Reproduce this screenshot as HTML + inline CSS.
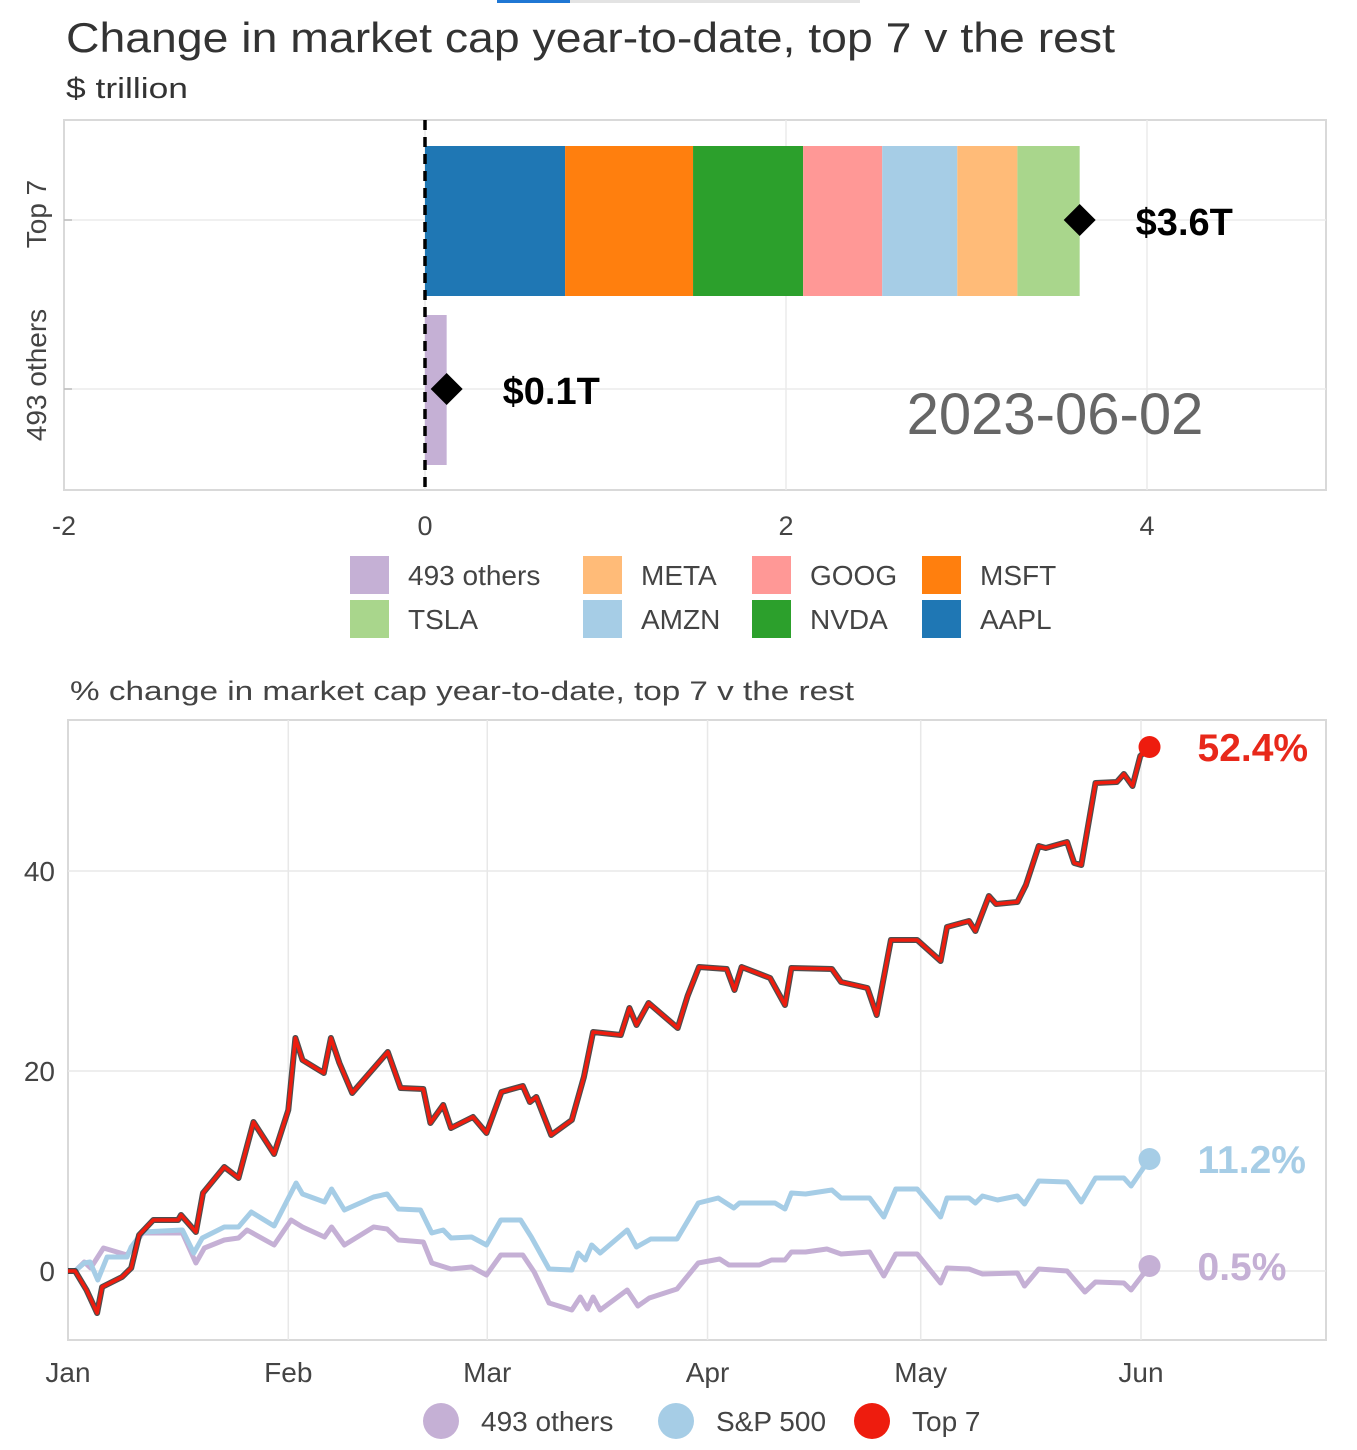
<!DOCTYPE html>
<html><head><meta charset="utf-8">
<style>
html,body{margin:0;padding:0;background:#fff;}
svg{display:block;font-family:"Liberation Sans",sans-serif;}
</style></head>
<body>
<svg id="chart" width="1357" height="1450" viewBox="0 0 1357 1450" xmlns="http://www.w3.org/2000/svg">
  <rect x="497" y="0" width="73" height="3" fill="#1f77d4"/>
  <rect x="570" y="0" width="290" height="3" fill="#e3e3e3"/>
  <text x="66" y="52" font-size="42" fill="#333" textLength="1049" lengthAdjust="spacingAndGlyphs">Change in market cap year-to-date, top 7 v the rest</text>
  <text x="66" y="98" font-size="29" fill="#333" textLength="122" lengthAdjust="spacingAndGlyphs">$ trillion</text>
  <g id="bar"></g>
  <text x="70" y="700" font-size="27" fill="#444" textLength="784" lengthAdjust="spacingAndGlyphs">% change in market cap year-to-date, top 7 v the rest</text>
  <g id="line"></g>
</svg>
<script>
// ---- Bar chart data ----
const barCompanies = ["AAPL","MSFT","NVDA","GOOG","AMZN","META","TSLA"];
const barValues = [0.776, 0.709, 0.61, 0.438, 0.416, 0.333, 0.345];
const othersValue = 0.12;
const barTicks = [-2, 0, 2, 4];
const top7Label = "$3.6T";
const othersLabel = "$0.1T";
const dateLabel = "2023-06-02";

// ---- Line chart data (x = day of year, Jan 1 = 0) ----
const top7Days = [0,1,2.6,4.1,4.8,7.6,8.9,10,12,15.5,15.9,18,19,22,24,26.1,29,31,32,33,36,37,38.2,40,45,46.8,50,51,52.8,53.9,57,58.9,61,64,65,65.9,68,70.9,72.6,73.9,77.8,79,80,81.7,85.8,87.2,88.8,92.7,93.8,94.8,98.8,100.9,101.8,107.5,108.8,112.5,113.8,115.8,119.5,122.8,123.7,126.8,127.7,129.6,130.6,133.6,134.8,136.6,137.6,140.6,141.6,142.6,144.6,147.6,148.6,149.8,150.9,152.2];
const top7Vals = [0,0,-1.9,-4.2,-1.6,-0.6,0.3,3.6,5.1,5.1,5.6,3.9,7.8,10.4,9.3,14.9,11.7,16.1,23.3,21.1,19.8,23.3,20.8,17.8,21.9,18.3,18.2,14.8,16.6,14.3,15.4,13.8,17.9,18.5,16.9,17.4,13.6,15.1,19.4,23.9,23.6,26.3,24.6,26.8,24.3,27.5,30.4,30.2,28.1,30.4,29.3,26.6,30.3,30.2,28.9,28.3,25.6,33.1,33.1,31.0,34.4,35.0,34.0,37.5,36.7,36.9,38.6,42.5,42.3,42.9,40.8,40.6,48.8,48.9,49.7,48.5,51.5,52.4];
const spDays = [0,1,2.3,3.1,4.2,5.5,8.3,8.9,10.5,16.1,17.7,18.9,22,24,25.8,29,32.1,33,36.1,37.1,38.9,43,44.9,46.5,49.6,51.2,52.8,53.9,56.8,58.9,60.9,63.7,65.2,67.7,70.9,71.8,72.8,73.7,74.9,78.7,80,82,85.7,88.7,91.5,93.7,94.5,99.5,100.9,101.8,103.8,107.5,108.8,112.8,114.8,116.5,119.5,122.8,123.7,126.8,127.7,128.7,130.8,133.6,134.6,136.6,140.6,142.6,144.6,148.6,149.6,152.2];
const spVals = [0,0,0.8,0.9,-0.9,1.4,1.4,2.4,3.9,4.1,1.8,3.3,4.4,4.4,5.9,4.5,8.8,7.7,6.9,8.2,6.1,7.4,7.7,6.2,6.1,3.8,4.1,3.3,3.4,2.6,5.1,5.1,3.4,0.2,0.1,1.8,1.1,2.6,1.8,4.1,2.4,3.2,3.2,6.8,7.3,6.3,6.8,6.8,6.2,7.8,7.7,8.1,7.3,7.3,5.4,8.2,8.2,5.4,7.3,7.3,6.8,7.5,7.1,7.5,6.7,9.0,8.9,6.9,9.3,9.3,8.5,11.2];
const othDays = [0,1,2.3,3.2,5,8.3,10.5,16.1,18,19.2,22,24,25.2,29,31.4,33,36.1,37.1,38.9,43,44.9,46.5,50,51.2,53.9,56.8,58.9,60.9,64,65.6,67.7,70.9,72.1,73.1,73.9,74.9,78.7,80.2,81.8,85.7,88.7,91.7,93,97.3,99,100.9,101.8,103.8,106.8,108.8,112.8,114.8,116.5,119.5,122.8,123.7,126.8,128.7,133.6,134.6,136.6,140.6,143.1,144.6,148.6,149.6,152.2];
const othVals = [0,0,0.9,0.3,2.3,1.6,3.8,3.8,0.8,2.3,3.1,3.3,4.1,2.6,5.1,4.4,3.4,4.4,2.6,4.4,4.2,3.1,2.9,0.8,0.2,0.4,-0.4,1.6,1.6,-0.1,-3.2,-3.9,-2.6,-3.8,-2.6,-3.9,-1.9,-3.5,-2.7,-1.8,0.8,1.2,0.6,0.6,1.1,1.1,1.9,1.9,2.2,1.7,1.9,-0.5,1.7,1.7,-1.2,0.3,0.2,-0.3,-0.2,-1.5,0.2,0,-2.1,-1.1,-1.2,-1.9,0.5];
const yTicks = [0, 20, 40];
const monthLabels = ["Jan","Feb","Mar","Apr","May","Jun"];
const monthDays = [0,31,59,90,120,151];

const NS = "http://www.w3.org/2000/svg";
function mk(tag, attrs, parent, text){
  const e = document.createElementNS(NS, tag);
  for (const k in attrs) e.setAttribute(k, attrs[k]);
  if (text !== undefined) e.textContent = text;
  parent.appendChild(e);
  return e;
}
const barColors = ["#1f77b4","#ff7f0e","#2ca02c","#ff9896","#a6cde6","#ffbb78","#a9d68c"];
const othersColor = "#c5b0d5";

// ---------- BAR CHART ----------
const bar = document.getElementById("bar");
const bx = v => 425 + (v) * 180.5;
const bL = 64, bR = 1326, bT = 120, bB = 490;
let el = mk("rect", {x:bL, y:bT, width:bR-bL, height:bB-bT, fill:"#fff", stroke:"#d9d9d9", "stroke-width":2}, bar);


barTicks.forEach(t => {
  if (t !== -2) {
    el = mk("line", {x1:bx(t), x2:bx(t), y1:bT, y2:bB, stroke:"#ebebeb", "stroke-width":1.5}, bar);
    
    
  }
  el = mk("text", {x:bx(t), y:535, "font-size":27, fill:"#444", "text-anchor":"middle"}, bar, String(t));
  
  
});
[220, 389].forEach(y => {
  el = mk("line", {x1:bL, x2:bR, y1:y, y2:y, stroke:"#ebebeb", "stroke-width":1.5}, bar);
  
  
  el = mk("line", {x1:bL, x2:bL+8, y1:y, y2:y, stroke:"#bbb", "stroke-width":1.5}, bar);
  
  
});
el = mk("text", {transform:"translate(46,214) rotate(-90)", "font-size":28, fill:"#444", "text-anchor":"middle"}, bar, "Top 7");


el = mk("text", {transform:"translate(46,375) rotate(-90)", "font-size":28, fill:"#444", "text-anchor":"middle"}, bar, "493 others");


let cum = 0;
barCompanies.forEach((c, i) => {
  el = mk("rect", {x:bx(cum), y:146, width:bx(cum+barValues[i])-bx(cum), height:150, fill:barColors[i]}, bar);
  
  
  cum += barValues[i];
});
el = mk("rect", {x:bx(0), y:315, width:bx(othersValue)-bx(0), height:150, fill:othersColor}, bar);


el = mk("line", {x1:bx(0), x2:bx(0), y1:bT, y2:bB, stroke:"#000", "stroke-width":3.5, "stroke-dasharray":"10,7"}, bar);


function diamond(x, y, name){
  const e = mk("path", {d:`M${x-16},${y} L${x},${y-16} L${x+16},${y} L${x},${y+16} Z`, fill:"#000"}, bar);
  
  
}
diamond(bx(cum), 220, 'total-marker-top7');
diamond(bx(othersValue), 389, 'total-marker-others');
el = mk("text", {x:bx(cum)+56, y:235, "font-size":38, "font-weight":"bold", fill:"#000"}, bar, top7Label);


el = mk("text", {x:bx(othersValue)+56, y:404, "font-size":38, "font-weight":"bold", fill:"#000"}, bar, othersLabel);


el = mk("text", {x:1055, y:434, "font-size":58, fill:"#666", "text-anchor":"middle"}, bar, dateLabel);


// legend
const legItems = [["493 others", othersColor, 350, 575],["META","#ffbb78",583,575],["GOOG","#ff9896",752,575],["MSFT","#ff7f0e",922,575],
  ["TSLA","#a9d68c",350,619],["AMZN","#a6cde6",583,619],["NVDA","#2ca02c",752,619],["AAPL","#1f77b4",922,619]];
legItems.forEach(([n, c, x, y]) => {
  const g = mk("g", {}, bar);
  
  
  mk("rect", {x:x, y:y-19, width:39, height:38, fill:c}, g);
  mk("text", {x:x+58, y:y+10, "font-size":28, fill:"#444"}, g, n);
});

// ---------- LINE CHART ----------
const line = document.getElementById("line");
const lL = 68, lR = 1326, lT = 720, lB = 1340;
const lx = d => 68 + d * (1141 - 68) / 151;
const ly = v => 1271 - v * 10;
el = mk("rect", {x:lL, y:lT, width:lR-lL, height:lB-lT, fill:"#fff", stroke:"#d9d9d9", "stroke-width":2}, line);


monthDays.forEach((d, i) => {
  if (i > 0) {
    el = mk("line", {x1:lx(d), x2:lx(d), y1:lT, y2:lB, stroke:"#e8e8e8", "stroke-width":1.5}, line);
    
    
  }
  el = mk("text", {x:lx(d), y:1382, "font-size":28, fill:"#444", "text-anchor":"middle"}, line, monthLabels[i]);
  
  
});
yTicks.forEach(t => {
  el = mk("line", {x1:lL, x2:lR, y1:ly(t), y2:ly(t), stroke:"#e8e8e8", "stroke-width":1.5}, line);
  
  
  el = mk("text", {x:55, y:ly(t)+10, "font-size":28, fill:"#444", "text-anchor":"end"}, line, String(t));
  
  
});
function series(days, vals, color, width, name, label, lblColor){
  const pts = days.map((d, i) => lx(d).toFixed(1) + "," + ly(vals[i]).toFixed(1)).join(" ");
  let e;
  if (name === 'top7') {
    e = mk("polyline", {points:pts, fill:"none", stroke:"#222", "stroke-width":width+2.5, "stroke-linejoin":"round", opacity:0.8}, line);
    
    
  }
  e = mk("polyline", {points:pts, fill:"none", stroke:color, "stroke-width":width, "stroke-linejoin":"round"}, line);
  
  
  const ld = days[days.length-1], lv = vals[vals.length-1];
  e = mk("circle", {cx:lx(ld), cy:ly(lv), r:11, fill:color}, line);
  
  
  e = mk("text", {x:lx(ld)+48, y:ly(lv)+14, "font-size":39, "font-weight":"bold", fill:lblColor}, line, label);
  
  
}
series(othDays, othVals, "#c5b0d5", 5, 'others', othVals[othVals.length-1].toFixed(1) + "%", "#c5b0d5");
series(spDays, spVals, "#a6cde6", 5, 'sp500', spVals[spVals.length-1].toFixed(1) + "%", "#a6cde6");
series(top7Days, top7Vals, "#ee1c0e", 3.5, 'top7', top7Vals[top7Vals.length-1].toFixed(1) + "%", "#e8281a");
// bottom legend
[["493 others","#c5b0d5",441],["S&P 500","#a6cde6",676],["Top 7","#ee1c0e",872]].forEach(([n,c,x]) => {
  const g = mk("g", {}, line);
  
  
  mk("circle", {cx:x, cy:1421, r:18, fill:c}, g);
  mk("text", {x:x+40, y:1431, "font-size":28, fill:"#444"}, g, n);
});
</script>
</body></html>
